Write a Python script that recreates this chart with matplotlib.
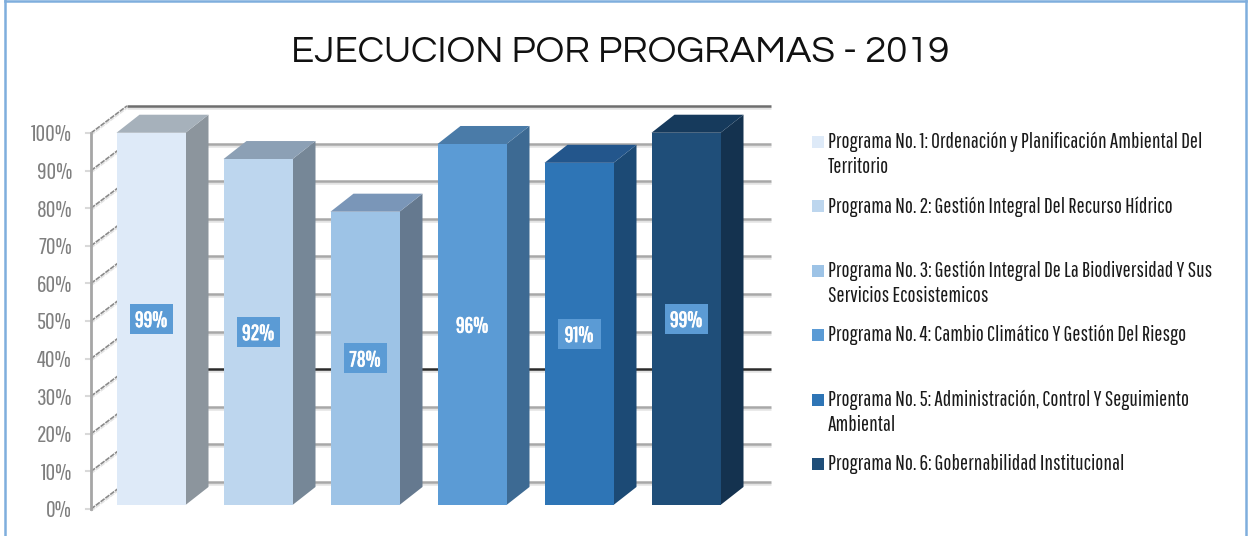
import matplotlib
matplotlib.use("Agg")
import matplotlib.patheffects as pe
from matplotlib import font_manager
from matplotlib import pyplot as plt
from matplotlib.lines import Line2D
from matplotlib.patches import Polygon, Rectangle

# Data
categories = [
    "Programa No. 1: Ordenación y Planificación Ambiental Del\nTerritorio",
    "Programa No. 2: Gestión Integral Del Recurso Hídrico",
    "Programa No. 3: Gestión Integral De La Biodiversidad Y Sus\nServicios Ecosistemicos",
    "Programa No. 4: Cambio Climático Y Gestión Del Riesgo",
    "Programa No. 5: Administración, Control Y Seguimiento\nAmbiental",
    "Programa No. 6: Gobernabilidad Institucional",
]
values = [99, 92, 78, 96, 91, 99]
bar_labels = ["99%", "92%", "78%", "96%", "91%", "99%"]
y_ticks = [0, 10, 20, 30, 40, 50, 60, 70, 80, 90, 100]
title = "EJECUCION POR PROGRAMAS - 2019"

# Styles
front_colors = ["#DEEAF8", "#BDD6EE", "#9DC3E6", "#5B9BD5", "#2E75B6", "#1F4E79"]
side_colors = ["#8C959D", "#768797", "#65798F", "#3D6A93", "#1C4A75", "#14324F"]
top_colors = ["#A6B1BB", "#8CA0B5", "#7A96B8", "#4A7BA8", "#23568C", "#163A5C"]
legend_px = [142, 206, 271, 335, 400, 464]

W, H = 1249, 536
X0, XSTEP = 151.0, 107.0  # pixel of first bar centre, pixels per category
Y0, YSTEP = 505.0, 3.76   # pixel of value 0, pixels per percent

names = {f.name for f in font_manager.fontManager.ttflist}


def pick(*fams):
    for fam in fams:
        if fam in names:
            return fam
    return "DejaVu Sans"


NARROW = pick("Pathway Gothic One", "Archivo Narrow", "Liberation Sans Narrow", "Roboto")
TITLE = pick("Questrial", "Didact Gothic", "Lato")

fig = plt.figure(figsize=(W / 100, H / 100), dpi=100, facecolor="white")
ax = fig.add_axes([0, 0, 1, 1])
ax.set_xlim(-X0 / XSTEP, (W - X0) / XSTEP)
ax.set_ylim((Y0 - H) / YSTEP, Y0 / YSTEP)
ax.axis("off")

# oblique depths, in data units
wall_dx, wall_dy = 36 / XSTEP, 7.2
bar_dx, bar_dy = 23 / XSTEP, 4.8
bar_w = 69 / XSTEP
wall_x = (91 - X0) / XSTEP
wall_end = (771 - X0) / XSTEP
wall_v = -1.06

shadow = [pe.SimpleLineShadow(offset=(0, -1.5), shadow_color="#bbbbbb", alpha=0.4), pe.Normal()]

# back wall gridlines and the slanted lines on the side wall
for v in y_ticks:
    color = "#A8A8A8"
    if v == 30:
        color = "#2B2B2B"
    elif v == 100:
        color = "#6E6E6E"
    yb = v + wall_v + wall_dy
    ax.plot([wall_x + wall_dx, wall_end], [yb, yb], color=color, lw=1.8,
            zorder=1, solid_capstyle="butt", path_effects=shadow)
    ax.plot([wall_x, wall_x + wall_dx], [v + wall_v, yb], color="#8A8A8A", lw=1.2,
            ls=(0, (3, 0.6)), zorder=1, path_effects=shadow)
    ax.plot([wall_x - 5 / XSTEP, wall_x], [v + wall_v, v + wall_v], color="#D9D9D9",
            lw=1.5, zorder=1)
    ax.text((72 - X0) / XSTEP, v + wall_v, f"{v}%", ha="right", va="center_baseline",
            family=NARROW, fontsize=17, color="#7F7F7F")
ax.plot([wall_x, wall_x], [wall_v, 100 + wall_v], color="#A6A6A6", lw=2.0, zorder=2)

# 3D looking bars
xs = list(range(len(values)))
ax.bar(xs, values, width=bar_w, color=front_colors, zorder=5, linewidth=0)
for i, v in enumerate(values):
    l, r = i - bar_w / 2, i + bar_w / 2
    ax.add_patch(Polygon([(r, 0), (r + bar_dx, bar_dy), (r + bar_dx, v + bar_dy), (r, v)],
                         facecolor=side_colors[i], edgecolor="none", zorder=4))
    ax.add_patch(Polygon([(l, v), (l + bar_dx, v + bar_dy), (r + bar_dx, v + bar_dy), (r, v)],
                         facecolor=top_colors[i], edgecolor="none", zorder=4))
    # label sits half way up the bar
    ax.add_patch(Rectangle((i - 21.5 / XSTEP, v / 2 - 15 / YSTEP), 43 / XSTEP, 30 / YSTEP,
                           facecolor="#5B9BD5", edgecolor="none", zorder=6))
    ax.text(i, v / 2, bar_labels[i], ha="center", va="center_baseline", color="white",
            family=NARROW, fontsize=15.5, fontweight="bold", zorder=7,
            path_effects=[pe.withStroke(linewidth=0.6, foreground="white")])

# legend is spaced unevenly in the original, so placed by hand
for color, label, py in zip(front_colors, categories, legend_px):
    fig.add_artist(Rectangle((812 / W, 1 - (py + 6) / H), 12 / W, 12 / H, facecolor=color,
                             edgecolor="none", transform=fig.transFigure))
    fig.text(828 / W, 1 - (py - 10) / H, label, ha="left", va="top", family=NARROW,
             fontsize=15.6, color="#1a1a1a", linespacing=1.27)

fig.text(620 / W, 1 - 49 / H, title, ha="center", va="center_baseline", family=TITLE,
         fontsize=27.5, color="#111111")

# outer frame, no bottom edge
frame = [([4.5, 4.5], [0, H]), ([1246, 1246], [0, H]), ([4.5, 1246], [1, 1])]
for fx, fy in frame:
    fig.add_artist(Line2D([p / W for p in fx], [1 - p / H for p in fy], color="#7FAEDD",
                          lw=1.8, transform=fig.transFigure))

fig.savefig("out.png", dpi=100)
